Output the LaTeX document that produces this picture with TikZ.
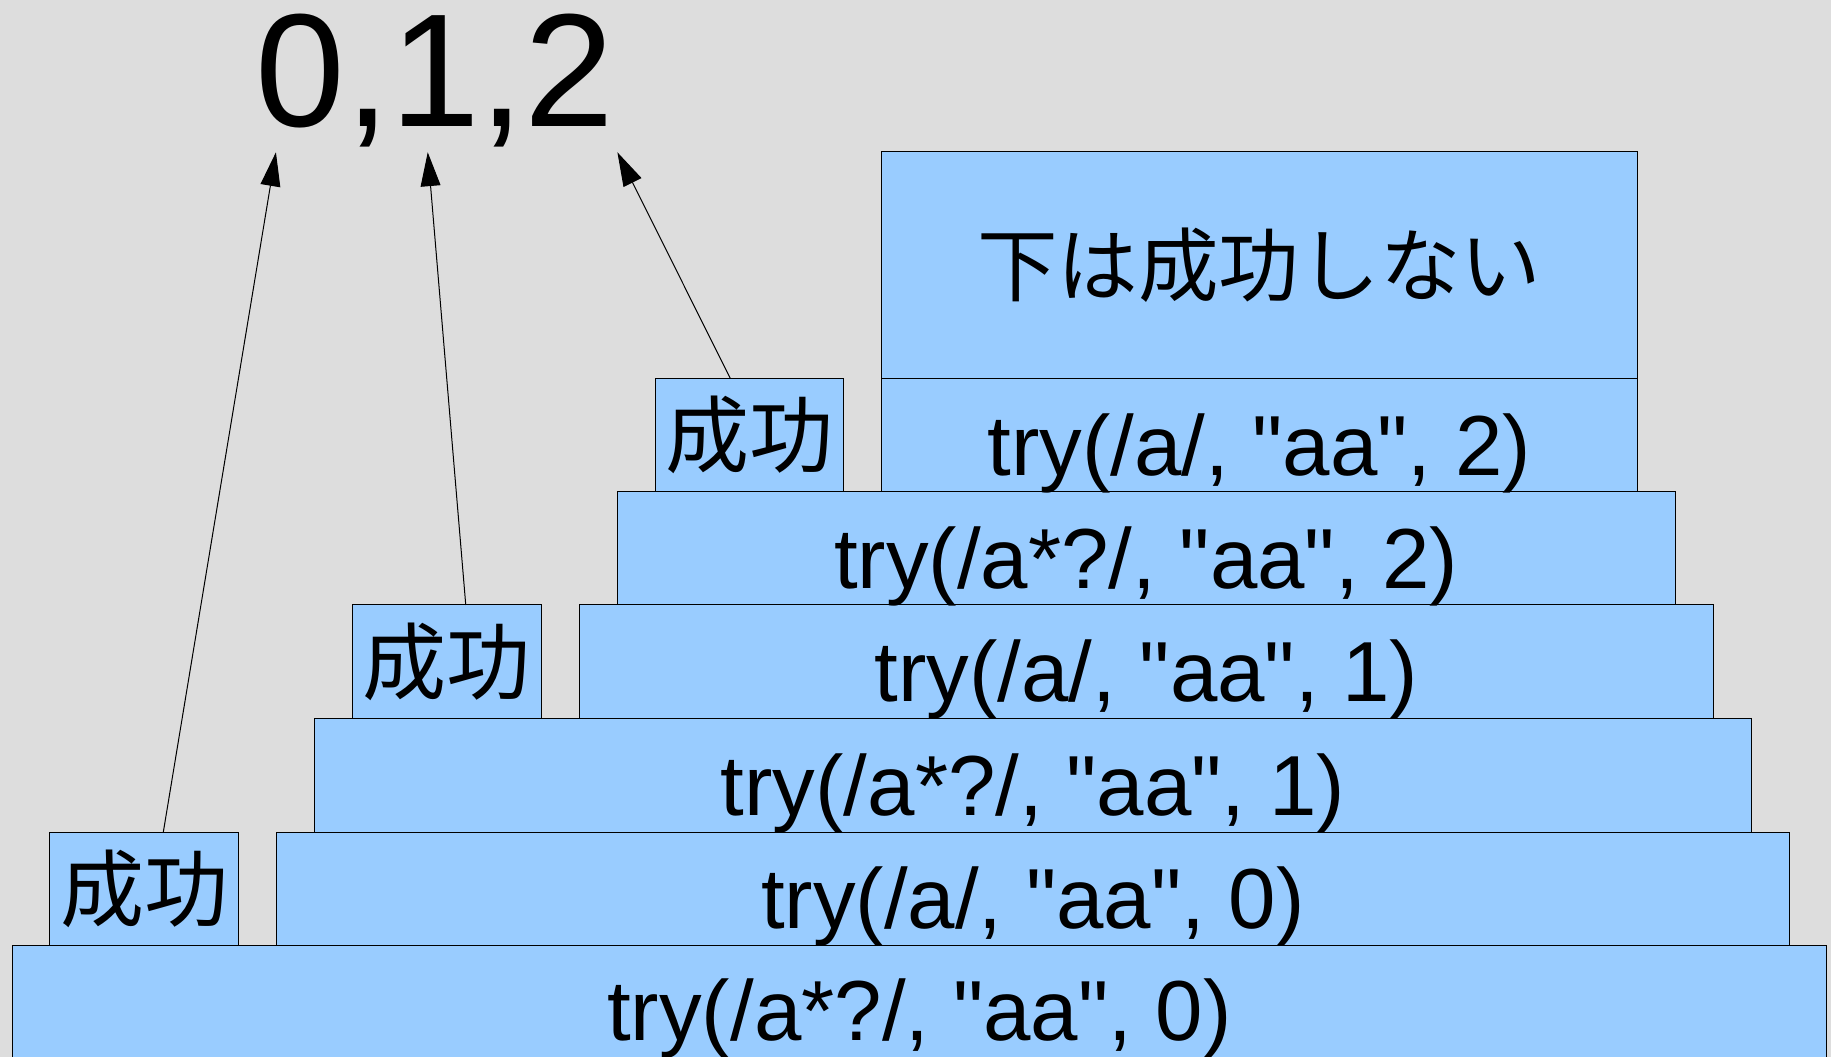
\documentclass[tikz,border=0pt]{standalone}
\usepackage{fontspec}
\setmainfont{Liberation Sans}[Ligatures=TeXOff]
\newfontfamily\cjk{Noto Sans CJK JP}
\usetikzlibrary{arrows.meta,calc}
\definecolor{bg}{HTML}{DDDDDD}
\definecolor{boxblue}{HTML}{99CCFF}
\begin{document}
\begin{tikzpicture}[x=1pt,y=1pt,
  blk/.style={draw=black, fill=boxblue, line width=0.86pt, inner sep=0pt, outer sep=0pt, anchor=south west},
  rowtext/.style={anchor=base, inner sep=0pt, font=\fontsize{73}{80}\selectfont},
  cjktext/.style={inner sep=0pt, font=\cjk\fontsize{72}{80}\selectfont},
  arr/.style={line width=0.86pt, -{Triangle[length=29pt,width=17pt]}}]
\fill[bg] (0,0) rectangle (1568,905);
\useasboundingbox (0,0) rectangle (1568,905);
\begin{scope}
\clip (0,0) rectangle (1568,905);
% stack of rows
\node[blk, minimum width=1553.3pt, minimum height=97pt] (r0) at (10.7,-1.5) {};
\node[blk, minimum width=1295.1pt, minimum height=96.7pt] (r1) at (237,95.5) {};
\node[blk, minimum width=1230.3pt, minimum height=97.6pt] (r2) at (269.5,192.2) {};
\node[blk, minimum width=971.2pt, minimum height=97.1pt] (r3) at (496.2,289.8) {};
\node[blk, minimum width=906pt, minimum height=97pt] (r4) at (528.6,386.9) {};
\node[blk, minimum width=647.4pt, minimum height=97.1pt] (r5) at (754.6,483.9) {};
\node[blk, minimum width=647.4pt, minimum height=194.4pt] (top) at (754.6,581) {};
% success boxes
\node[blk, minimum width=161.7pt, minimum height=96.7pt] (s0) at (42.8,95.5) {};
\node[blk, minimum width=162.1pt, minimum height=97.1pt] (s1) at (301.6,289.8) {};
\node[blk, minimum width=161pt, minimum height=97.1pt] (s2) at (561,483.9) {};
% texts
\node[rowtext] (t0) at ($(r0.south)+(0,15.8)$) {try(/a*?/, "aa", 0)};
\node[rowtext] (t1) at ($(r1.south)+(0,14.3)$) {try(/a/, "aa", 0)};
\node[rowtext] (t2) at ($(r2.south)+(0,14.3)$) {try(/a*?/, "aa", 1)};
\node[rowtext] (t3) at ($(r3.south)+(0,14.3)$) {try(/a/, "aa", 1)};
\node[rowtext] (t4) at ($(r4.south)+(0,14.3)$) {try(/a*?/, "aa", 2)};
\node[rowtext] (t5) at ($(r5.south)+(0,14.3)$) {try(/a/, "aa", 2)};
\node[cjktext, font=\cjk\fontsize{69}{78}\selectfont] (tt) at (top.center) {下は成功しない};
\node[cjktext] (ts0) at (s0.center) {成功};
\node[cjktext] (ts1) at (s1.center) {成功};
\node[cjktext] (ts2) at (s2.center) {成功};
% result
\node[anchor=base west, inner sep=0pt, font=\fontsize{138}{150}\selectfont] (res) at (219,797) {0,1,2};
\coordinate (p0) at (236.3,774.6);
\coordinate (p1) at (366.3,774.6);
\coordinate (p2) at (528.7,774.6);
\draw[arr] ($(s0.north west)!0.6!(s0.north east)$) -- (p0);
\draw[arr] ($(s1.north west)!0.6!(s1.north east)$) -- (p1);
\draw[arr] ($(s2.north west)!0.4!(s2.north east)$) -- (p2);
\end{scope}
\end{tikzpicture}
\end{document}
